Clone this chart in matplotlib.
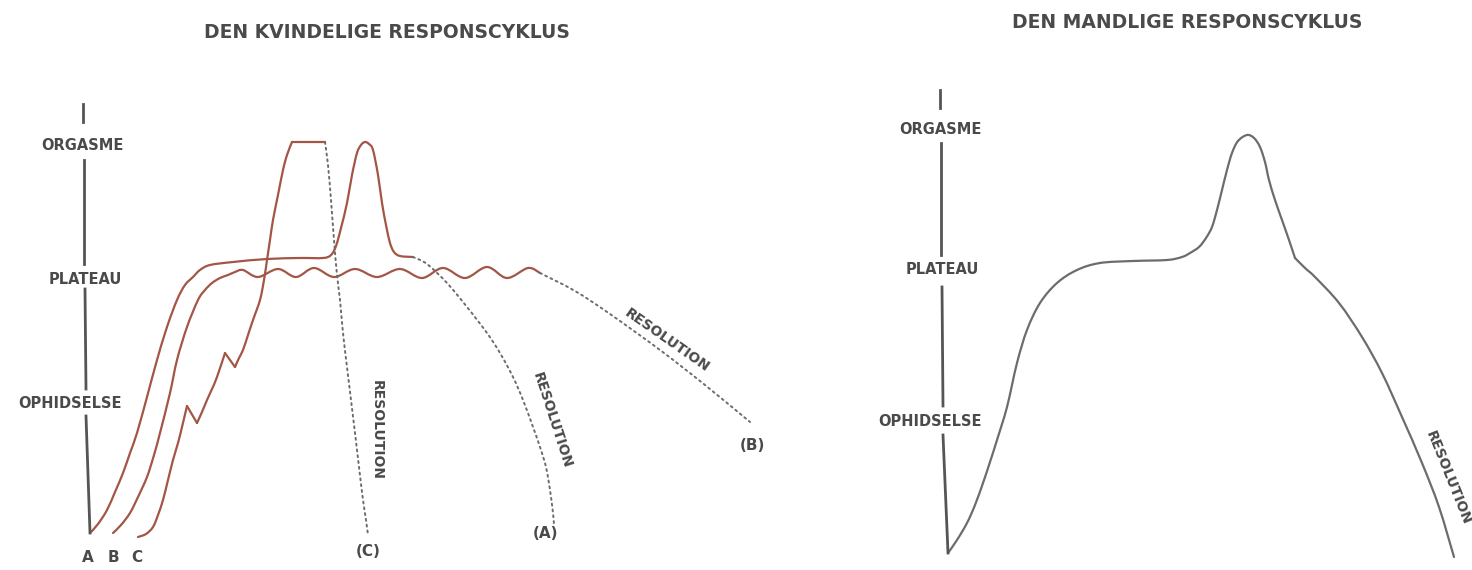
import numpy as np
import matplotlib
matplotlib.use("Agg")
import matplotlib.pyplot as plt
from matplotlib.path import Path
from matplotlib.patches import PathPatch

# colours of the print
RED = "#a35546"
GREY = "#6c6c6c"
AXIS = "#555555"
TEXT = "#4a4a4a"

# ---- data (x = time, y = arousal, image units) ----
level_names = ["ORGASME", "PLATEAU", "OPHIDSELSE"]

# left panel, female cycle
f_axis_x = [83, 84, 85, 86, 90]
f_axis_y = [104, 160, 289, 416, 533]
f_level_y = [145, 279, 404]
f_level_x = [82, 85, 70]

curve_a = [(90, 533), (98, 524), (107, 510), (115, 492), (123, 473), (130, 453),
           (137, 433), (147, 397), (157, 360), (167, 327), (177, 300), (185, 285),
           (193, 277), (200, 270), (210, 265), (233, 262), (267, 259), (300, 258),
           (323, 258), (331, 255), (336, 246), (341, 228), (347, 203), (352, 175),
           (357, 153), (361, 145), (365, 142), (369, 144), (373, 150), (378, 175),
           (382, 203), (386, 225), (390, 243), (394, 252), (400, 256), (413, 257)]
resol_a = [(413, 257), (427, 264), (447, 283), (467, 307), (487, 333), (500, 353),
           (513, 377), (523, 400), (533, 427), (540, 447), (546, 467), (550, 490),
           (553, 513), (554, 525)]

curve_b = [(113, 533), (121, 525), (130, 513), (138, 497), (147, 477), (154, 455),
           (160, 433), (170, 393), (177, 360), (187, 327), (198, 300), (205, 290),
           (212, 283), (220, 278), (228, 275), (235, 272), (243, 270), (258, 277),
           (278, 269), (296, 277), (314, 268), (334, 277), (355, 269), (377, 277),
           (400, 269), (422, 278), (443, 268), (465, 278), (487, 267), (507, 278),
           (528, 268), (540, 273)]
resol_b = [(540, 273), (575, 291), (610, 314), (660, 350), (705, 385), (750, 422)]

# C climbs with two small set-backs, then holds a long orgasm
curve_c = [
    [(138, 537), (146, 534), (153, 527), (158, 515), (163, 500), (168, 480),
     (173, 460), (178, 443), (182, 427), (187, 406)],
    [(187, 406), (197, 423)],
    [(197, 423), (202, 412), (207, 400), (212, 389), (217, 377), (225, 353)],
    [(225, 353), (235, 367)],
    [(235, 367), (239, 358), (243, 350), (248, 335), (253, 320), (260, 300),
     (264, 280), (267, 260), (270, 240), (273, 220), (278, 195), (283, 170),
     (287, 155), (292, 142)],
    [(292, 142), (325, 142)],
]
resol_c = [(325, 142), (328, 165), (331, 200), (334, 240), (337, 275), (340, 300),
           (343, 333), (347, 367), (351, 400), (355, 433), (359, 467), (363, 500),
           (366, 520), (368, 535)]

# right panel, male cycle
m_axis_x = [940, 941, 942, 943, 948]
m_axis_y = [90, 143, 287, 435, 553]
m_level_y = [129, 270, 421]
m_level_x = [940, 942, 930]

curve_m = [
    [(948, 553), (957, 540), (967, 523), (975, 505), (983, 483), (990, 462),
     (997, 440), (1007, 407), (1017, 363), (1027, 330), (1040, 303), (1057, 283),
     (1077, 270), (1100, 263), (1133, 261), (1167, 260), (1182, 257), (1190, 253),
     (1199, 247), (1206, 238), (1212, 227), (1217, 210), (1222, 190), (1227, 170),
     (1232, 153), (1238, 141), (1247, 135), (1254, 138), (1260, 147), (1265, 162),
     (1269, 180), (1275, 200), (1282, 220), (1289, 240), (1295, 258)],
    [(1295, 258), (1305, 268), (1315, 277), (1339, 303), (1362, 337), (1382, 373),
     (1402, 417), (1422, 463), (1439, 507), (1454, 557)],
]


def smooth_path(pts):
    # catmull-rom through the read points, drawn as cubic bezier pieces
    p = np.array(pts, dtype=float)
    if len(p) < 3:
        return Path(p)
    ext = np.vstack([p[0], p, p[-1]])
    verts = [p[0]]
    codes = [Path.MOVETO]
    for i in range(1, len(ext) - 2):
        p0, p1, p2, p3 = ext[i - 1], ext[i], ext[i + 1], ext[i + 2]
        verts += [p1 + (p2 - p0) / 6, p2 - (p3 - p1) / 6, p2]
        codes += [Path.CURVE4] * 3
    return Path(verts, codes)


def draw(ax, pts, color, lw, ls="-"):
    ax.add_patch(PathPatch(smooth_path(pts), fill=False, edgecolor=color,
                           lw=lw, ls=ls, capstyle="round", joinstyle="round"))


plt.rcParams["font.family"] = ["DejaVu Sans"]
fig = plt.figure(figsize=(14.72, 5.70), dpi=100)
ax = fig.add_axes([0, 0, 1, 1])
ax.set_xlim(0, 1472)
ax.set_ylim(570, 0)
ax.axis("off")

# axes with level names, line broken round each name
for xs, ys, lx, ly in [(f_axis_x, f_axis_y, f_level_x, f_level_y),
                       (m_axis_x, m_axis_y, m_level_x, m_level_y)]:
    ax.plot([xs[0], xs[0]], [ys[0], ys[0] + 18], color=AXIS, lw=2)
    ax.plot([xs[1], xs[1]], [ys[1], ly[1] - 15], color=AXIS, lw=2)
    ax.plot([xs[2], xs[2] + 1], [ys[2], ly[2] - 15], color=AXIS, lw=2)
    ax.plot([xs[3], xs[4]], [ys[3], ys[4]], color=AXIS, lw=2)
    for name, x, y in zip(level_names, lx, ly):
        ax.text(x, y, name, ha="center", va="center", fontsize=10.5,
                fontweight="bold", color=TEXT)

# female curves
draw(ax, curve_a, RED, 1.6)
draw(ax, curve_b, RED, 1.6)
for piece in curve_c:
    draw(ax, piece, RED, 1.6)
for res in [resol_a, resol_b, resol_c]:
    draw(ax, res, GREY, 1.4, ls=(0, (1, 2)))

# male curve
for piece in curve_m:
    draw(ax, piece, GREY, 1.6)

# titles
ax.text(387, 32, "DEN KVINDELIGE RESPONSCYKLUS", ha="center", va="center",
        fontsize=13.5, fontweight="bold", color=TEXT)
ax.text(1187, 22, "DEN MANDLIGE RESPONSCYKLUS", ha="center", va="center",
        fontsize=13.5, fontweight="bold", color=TEXT)

# curve names
for name, x in zip(["A", "B", "C"], [88, 113, 137]):
    ax.text(x, 557, name, ha="center", va="center", fontsize=11,
            fontweight="bold", color=TEXT)
for name, x, y in [("(C)", 368, 552), ("(A)", 546, 534), ("(B)", 752, 445)]:
    ax.text(x, y, name, ha="center", va="center", fontsize=11,
            fontweight="bold", color=TEXT)

# resolution labels along the dotted lines
for x, y, rot in [(377, 430, -90), (552, 420, -72), (667, 340, -35), (1448, 478, -68)]:
    ax.text(x, y, "RESOLUTION", ha="center", va="center", rotation=rot,
            rotation_mode="anchor", fontsize=10, fontweight="bold", color=TEXT)

fig.savefig("out.png", dpi=100)
